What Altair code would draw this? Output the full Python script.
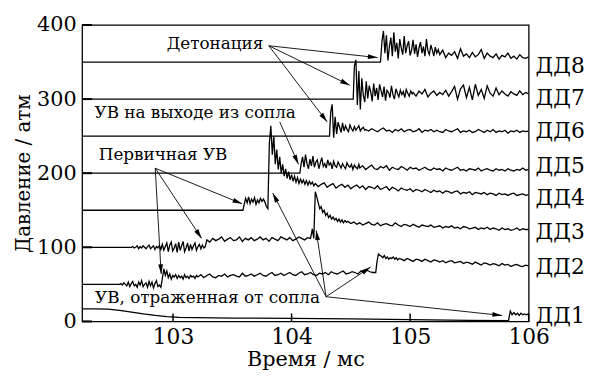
import math
import altair as alt
import pandas as pd

FONT = "DejaVu Serif"
T_MIN, T_MAX = 102.233, 106.0

# ---------------- data ----------------
sensors = ["ДД1", "ДД2", "ДД3", "ДД4", "ДД5", "ДД6", "ДД7", "ДД8"]
label_p = [7, 73, 121, 167, 209, 257, 301, 344]

x_ticks = [103, 104, 105, 106]
y_ticks = [0, 100, 200, 300, 400]

dd8_pre = [(102.233, 350), (104.745, 350)]
dd8_a = [350, 378, 392, 362, 386, 352, 371, 383, 358, 390,
         364, 376, 355, 381, 369, 360, 385, 362, 372, 378,
         359, 366, 380, 361, 374, 357, 369, 377, 362, 371,
         358, 381, 365, 360, 373, 366, 358, 370, 362, 367]
dd8_b = [360, 366, 356, 362, 359, 364, 355, 368, 358, 361,
         356, 363, 357, 360, 367, 355, 362, 358, 356, 361,
         354, 359, 357, 362, 355, 358, 354, 360, 356, 355, 357]

dd7_pre = [(102.233, 300), (104.52, 300)]
dd7_a = [345, 353, 292, 338, 286, 328, 305, 296, 324, 301,
         318, 310, 297, 321, 304, 315, 299, 320, 311, 303,
         317, 298, 312, 309, 302, 318, 306, 300, 314, 308,
         303, 312, 306, 310, 302, 313, 308, 304, 311, 307]
dd7_b = [309, 304, 311, 307, 313, 303, 308, 311, 305, 309,
         306, 312, 304, 310, 317, 300, 314, 319, 302, 316,
         299, 320, 305, 313, 301, 318, 308, 304, 315, 306,
         311, 307, 304, 310, 307, 305, 311, 306, 309, 307]

dd6_pre = [(102.233, 250), (104.32, 250)]
dd6_a = [282, 293, 248, 276, 253, 269, 262, 255, 268, 257,
         264, 259, 256, 265, 260, 257, 263, 258, 261, 264,
         257, 260, 262, 258]
dd6_b = [259, 257, 260, 258, 256, 259, 261, 257, 258, 255,
         259, 257, 260, 256, 258, 259, 256, 257, 260, 255,
         258, 257, 259, 256, 258, 256, 255, 259, 257, 256,
         258, 260, 255, 257, 256, 258, 255, 256, 259, 257,
         255, 258, 256, 259, 255, 257, 256, 258, 254, 257,
         256, 258, 255, 257, 256, 257]

dd5_pre = [(102.233, 200), (104.07, 200)]
dd5_a = [212, 222, 208, 225, 213, 206, 219, 210, 223, 208,
         215, 218, 206, 214, 221, 209, 213, 207, 218, 211,
         214, 206, 216, 210, 208, 215, 211, 207, 213, 209,
         206, 214, 210, 208, 212, 205, 211, 208, 206, 212]
dd5_b = [207, 210, 205, 208, 211, 206, 205, 209, 207, 210,
         204, 208, 206, 205, 209, 207, 204, 208, 206, 207,
         204, 206, 208, 205, 204, 207, 205, 206, 203, 207,
         205, 204, 206, 208, 204, 205, 203, 206, 205, 204,
         207, 203, 205, 206, 204, 203, 206, 204, 205, 203,
         206, 204, 203, 205, 204, 207, 204, 205]

dd4_pre = [(102.233, 150), (103.59, 150)]
dd4_a = [158, 166, 160, 168, 159, 165, 161, 167, 158, 164,
         160, 166, 162, 165, 161, 155, 152, 240, 264, 225,
         250, 212, 232, 205]
dd4_b = [222, 200, 212, 196, 206, 193, 202, 191, 198, 189,
         196, 188, 194, 186, 192, 187, 191, 185, 190, 184,
         189, 185, 188, 183]
dd4_c = [186, 182, 185, 187, 181, 184, 186, 180, 183, 185,
         181, 184, 179, 182, 184, 180, 183, 178, 182, 181,
         179, 183, 178, 180, 182, 177, 181, 179, 176, 180,
         178, 177, 179, 175, 178, 177, 175, 178, 176, 174,
         177, 175, 176, 173, 176, 175, 173, 175, 176, 172,
         174, 173, 175, 171, 174, 173, 172, 174, 171, 173,
         172, 170, 173, 171, 172, 170, 172, 173, 170, 171,
         172, 170, 171]

dd3_pre = [(102.233, 100), (102.65, 100)]
dd3_a = [101, 99, 100, 102, 98, 101, 99, 102, 100, 98,
         101, 103, 98, 100, 102, 97, 101, 99, 103, 97,
         104, 96, 101, 106, 94, 103, 107, 95, 99, 105,
         93, 107, 96, 102, 108, 94, 99, 106, 95, 104,
         97, 102, 106, 96, 101, 104, 98, 103, 99, 101]
dd3_b = [110, 107, 112, 109, 111, 114, 108, 111, 113, 109,
         110, 114, 108, 112, 110, 113, 109, 111, 114, 110,
         112, 108, 113, 111, 109, 114, 112, 110, 113, 109,
         111, 114, 112, 110, 113, 112]
dd3_c = [125, 112, 175, 168, 160, 152, 155, 147, 150, 143,
         146, 140, 143, 138, 141, 137, 139, 135, 138, 134,
         137, 133, 136, 134]
dd3_d = [135, 132, 134, 131, 133, 130, 132, 134, 131, 130,
         133, 129, 131, 132, 130, 129, 133, 130, 128, 131,
         130, 128, 131, 129, 127, 130, 129, 128, 130, 127,
         128, 129, 126, 128, 127, 129, 126, 127, 125, 128,
         127, 125, 126, 127, 124, 126, 125, 127, 124, 126,
         125, 123, 126, 124, 125, 123, 124, 126, 123, 125,
         124, 124]

dd2_pre = [(102.233, 50), (102.55, 50)]
dd2_a = [51, 49, 52, 50, 48, 53, 47, 51, 54, 48,
         50, 46, 53, 49, 55, 47, 50, 52, 46, 54,
         48, 53, 45, 51, 55, 47, 49, 46]
dd2_b = [58, 71, 62, 68, 59, 64, 57, 62, 60, 63,
         58, 62, 59, 61, 57, 63, 59, 61, 58, 62,
         60, 61, 58, 62]
dd2_c = [60, 63, 59, 62, 64, 60, 59, 62, 61, 64,
         60, 62, 63, 61, 60, 65, 61, 62, 64, 61,
         63, 65, 62, 61, 64, 66, 62, 63, 65, 62,
         64, 66, 63, 62, 65, 67, 63, 64, 66, 63,
         62, 65, 64, 66, 63, 67, 65, 64, 66, 68,
         64, 65, 67, 66, 64, 68, 66, 69, 67, 66, 66]
dd2_d = [80, 91, 89, 88, 86, 89, 85, 87, 84, 86, 85, 87, 84, 86, 83, 85]
dd2_e = [84, 82, 85, 83, 81, 84, 83, 81, 84, 82,
         80, 83, 82, 80, 82, 79, 81, 82, 79, 80,
         81, 78, 80, 79, 77, 80, 78, 76, 79, 78,
         76, 78, 77, 75, 78, 76, 77, 74, 76, 77,
         75, 74, 76, 75]

dd1_pts = [(102.233, 17), (102.35, 17), (102.45, 16.5), (102.55, 15), (102.65, 12.5),
           (102.75, 10), (102.85, 8), (102.95, 6.5), (103.05, 5.5), (103.2, 5),
           (103.5, 4.5), (104.0, 4), (104.5, 3.5), (105.0, 2.5), (105.5, 1.5),
           (105.83, 1), (105.845, 14), (105.86, 9), (105.875, 12), (105.89, 9),
           (105.905, 11), (105.92, 8), (105.935, 11), (105.95, 9), (105.965, 10),
           (105.98, 9), (106.0, 10)]

traces = {
    "ДД8": [dd8_pre, (104.75, 0.0125, dd8_a), (105.25, 0.025, dd8_b)],
    "ДД7": [dd7_pre, (104.53, 0.0125, dd7_a), (105.025, 0.025, dd7_b)],
    "ДД6": [dd6_pre, (104.33, 0.0125, dd6_a), (104.625, 0.025, dd6_b)],
    "ДД5": [dd5_pre, (104.08, 0.0125, dd5_a), (104.575, 0.025, dd5_b)],
    "ДД4": [dd4_pre, (103.6, 0.0125, dd4_a), (103.9, 0.0125, dd4_b), (104.2, 0.025, dd4_c)],
    "ДД3": [dd3_pre, (102.66, 0.0125, dd3_a), (103.285, 0.025, dd3_b),
            (104.175, 0.0125, dd3_c), (104.475, 0.025, dd3_d)],
    "ДД2": [dd2_pre, (102.56, 0.0125, dd2_a), (102.91, 0.0125, dd2_b),
            (103.21, 0.025, dd2_c), (104.72, 0.0125, dd2_d), (104.925, 0.025, dd2_e)],
    "ДД1": [dd1_pts],
}

ann_text = ["Детонация", "УВ на выходе из сопла", "Первичная УВ", "УВ, отраженная от сопла"]
ann_t = [103.354, 103.187, 102.916, 103.291]
ann_p = [374.7, 281.5, 224.0, 32.0]

arrow_t1 = [103.808, 103.808, 103.808, 103.900, 102.850, 102.850, 102.850,
            104.291, 104.291, 104.291, 104.291]
arrow_p1 = [372.0, 372.0, 372.0, 269.3, 206.7, 206.7, 206.7,
            33.3, 33.3, 33.3, 33.3]
arrow_t2 = [104.725, 104.491, 104.300, 104.058, 103.583, 103.241, 102.900,
            105.775, 104.666, 104.208, 103.841]
arrow_p2 = [356.0, 318.7, 269.3, 212.0, 158.7, 112.0, 64.0,
            8.0, 73.3, 122.7, 173.3]

rows = []
for name, segs in traces.items():
    k = 0
    for seg in segs:
        if isinstance(seg, list):
            for t, p in seg:
                rows.append({"t": t, "p": p, "sensor": name, "i": k}); k += 1
        else:
            start, step, vals = seg
            for j, p in enumerate(vals):
                rows.append({"t": round(start + j * step, 5), "p": p, "sensor": name, "i": k}); k += 1
df = pd.DataFrame(rows)

PX_PER_T = 452 / (T_MAX - T_MIN)
PX_PER_P = 300 / 400
angles = []
for a, b, c, d in zip(arrow_t1, arrow_p1, arrow_t2, arrow_p2):
    dx = (c - a) * PX_PER_T
    dy = -(d - b) * PX_PER_P
    angles.append(math.degrees(math.atan2(dx, -dy)) % 360)
df_arr = pd.DataFrame({"t1": arrow_t1, "p1": arrow_p1, "t2": arrow_t2, "p2": arrow_p2, "ang": angles})
df_ann = pd.DataFrame({"t": ann_t, "p": ann_p, "txt": ann_text})
df_lab = pd.DataFrame({"p": label_p, "txt": sensors})
df_xt = pd.DataFrame({"t": x_ticks})
df_yt = pd.DataFrame({"p": y_ticks})

xscale = alt.Scale(domain=[T_MIN, T_MAX], nice=False, zero=False)
yscale = alt.Scale(domain=[0, 400], nice=False, zero=False)
xaxis = alt.Axis(values=x_ticks, labelFlush=False, labelPadding=5, titlePadding=2,
                 labelFontSize=22, titleFontSize=21)
yaxis = alt.Axis(values=y_ticks, labelPadding=6, titlePadding=3,
                 labelFontSize=21, titleFontSize=20)

def X(f):
    return alt.X(f, type="quantitative", scale=xscale, axis=xaxis, title="Время / мс")

def Y(f):
    return alt.Y(f, type="quantitative", scale=yscale, axis=yaxis, title="Давление / атм")

lines = alt.Chart(df).mark_line(color="black", strokeWidth=1.3, clip=True).encode(
    x=X("t"), y=Y("p"), detail="sensor:N", order="i:Q")

arrows = alt.Chart(df_arr).mark_rule(color="black", strokeWidth=0.9).encode(
    x=X("t1"), y=Y("p1"), x2="t2:Q", y2="p2:Q")

heads = alt.Chart(df_arr).mark_point(
    shape="M0,0 L0.25,1 L-0.25,1 Z", filled=True, color="black", opacity=1,
    size=380, strokeWidth=0).encode(
    x=X("t2"), y=Y("p2"), angle=alt.Angle("ang:Q", scale=None))

ann = alt.Chart(df_ann).mark_text(font=FONT, fontSize=17, color="black",
                                  align="center", baseline="middle").encode(
    x=X("t"), y=Y("p"), text="txt:N")

labels = alt.Chart(df_lab).mark_text(font=FONT, fontSize=22, color="black",
                                     align="left", baseline="middle").encode(
    x=alt.value(459), y=Y("p"), text="txt:N")

yt = alt.Chart(df_yt).mark_rule(color="black", strokeWidth=2).encode(
    x=alt.value(0), x2=alt.value(10), y=Y("p"))
xt = alt.Chart(df_xt).mark_rule(color="black", strokeWidth=1.5).encode(
    x=X("t"), y=alt.value(300), y2=alt.value(292))

chart = alt.layer(lines, arrows, heads, ann, labels, yt, xt).properties(
    width=452, height=300,
    padding={"left": 75, "top": 15, "right": 56, "bottom": 48},
    autosize=alt.AutoSizeParams(type="none"),
).configure_view(stroke="black", strokeWidth=1.3).configure_axis(
    domain=False, ticks=False, grid=False,
    labelFont=FONT, titleFont=FONT, labelColor="black", titleColor="black",
    titleFontWeight="normal")

chart.save("out.html", embed_options={"renderer": "svg", "actions": False})
